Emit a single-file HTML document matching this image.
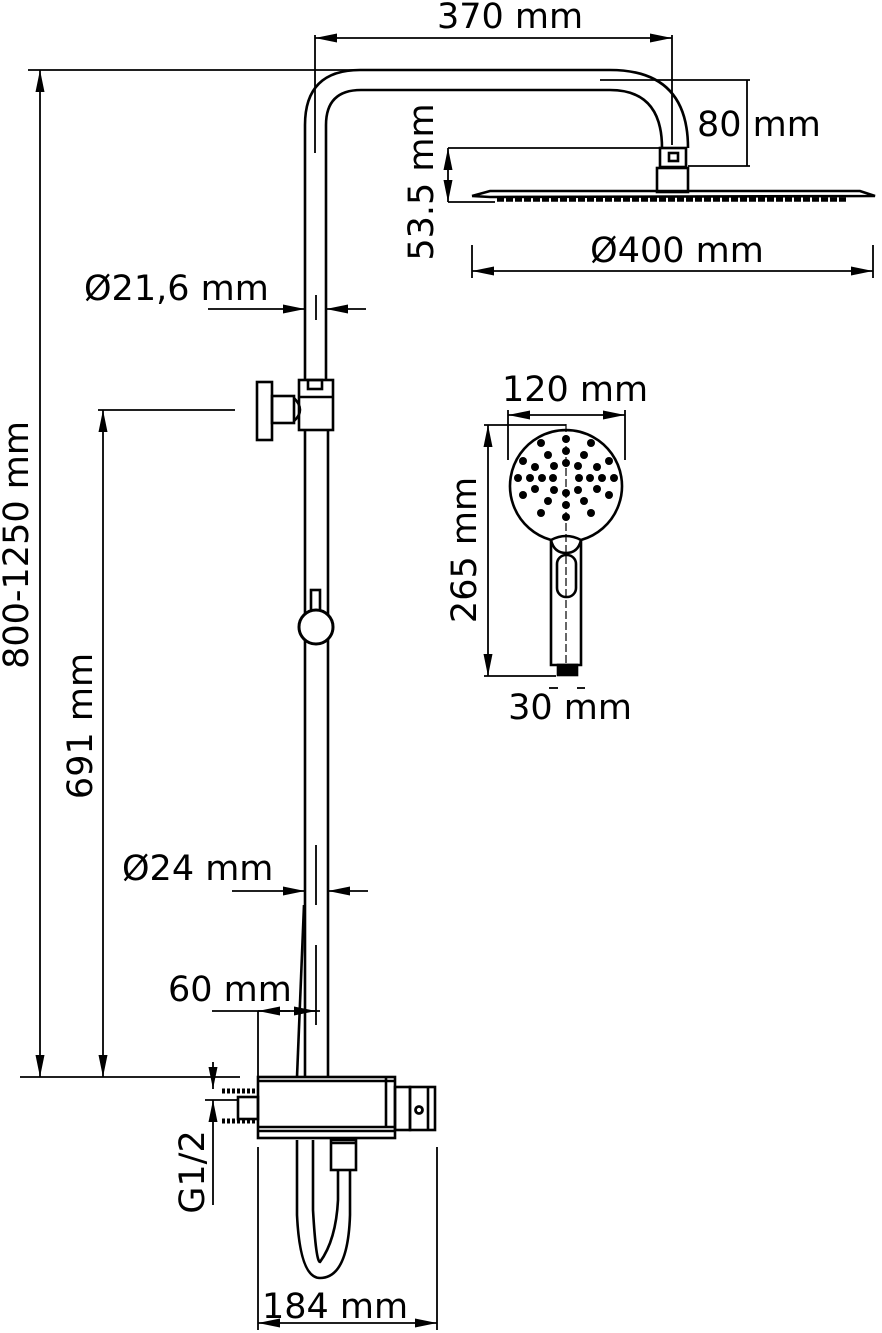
<!DOCTYPE html>
<html><head><meta charset="utf-8"><style>
html,body{margin:0;padding:0;background:#fff}
svg{display:block}
text{font-family:"DejaVu Sans","Liberation Sans",sans-serif;font-size:35px;fill:#000}
</style></head><body>
<svg width="882" height="1333" viewBox="0 0 882 1333" xmlns="http://www.w3.org/2000/svg">
<defs>
<marker id="a" viewBox="0 0 22 9" refX="22" refY="4.5" markerWidth="22" markerHeight="9" markerUnits="userSpaceOnUse" orient="auto-start-reverse"><path d="M0,0 L22,4.5 L0,9 Z" fill="#000"/></marker>
</defs>
<g fill="none" stroke="#000" stroke-width="2.6">
<path d="M305,380 L305,125 Q305,70 360,70 L610,70 Q688,70 688,148"/>
<path d="M326,380 L326,125 Q326,90 361,90 L610,90 Q662,90 662,148"/>
<line x1="315" y1="35" x2="315" y2="153" stroke-width="1.8"/>
<line x1="672" y1="35" x2="672" y2="145" stroke-width="1.8"/>
<line x1="316" y1="295" x2="316" y2="320" stroke-width="1.8"/>
<rect x="660" y="148" width="26" height="19"/>
<rect x="669" y="153" width="9" height="8"/>
<rect x="657" y="168" width="31" height="24"/>
<path d="M472,196 L490,191 L860,191 L875,196 L490,197 L472,196"/>
<line x1="497" y1="199.5" x2="848" y2="199.5" stroke-width="4.5" stroke-dasharray="7 2"/>
<rect x="299" y="380" width="34" height="50"/>
<rect x="308" y="380" width="14" height="9"/>
<line x1="299" y1="397" x2="333" y2="397"/>
<rect x="257" y="382" width="15" height="58"/>
<rect x="272" y="396" width="22" height="27"/>
<path d="M294,398 Q306,410 294,421"/>
<line x1="305" y1="430" x2="305" y2="1077"/>
<line x1="328" y1="430" x2="328" y2="1077"/>
<rect x="311" y="590" width="9" height="22"/>
<circle cx="316" cy="627" r="17" stroke-width="3" fill="#fff"/>
<line x1="316" y1="845" x2="316" y2="905" stroke-width="1.8"/>
<line x1="316" y1="945" x2="316" y2="1025" stroke-width="1.8"/>
<line x1="304" y1="905" x2="297" y2="1077"/>
<rect x="258" y="1077" width="137" height="61"/>
<line x1="258" y1="1081" x2="395" y2="1081"/>
<line x1="258" y1="1127" x2="395" y2="1127"/>
<line x1="258" y1="1131" x2="395" y2="1131"/>
<line x1="386" y1="1077" x2="386" y2="1127"/>
<rect x="395" y="1087" width="15" height="43"/>
<rect x="410" y="1087" width="25" height="43"/>
<line x1="428" y1="1087" x2="428" y2="1130"/>
<circle cx="419" cy="1110" r="3.5" stroke-width="2.8"/>
<rect x="238" y="1097" width="20" height="22"/>
<line x1="222" y1="1091" x2="258" y2="1091" stroke-width="5" stroke-dasharray="3 2"/>
<line x1="222" y1="1121" x2="258" y2="1121" stroke-width="5" stroke-dasharray="3 2"/>
<rect x="331" y="1140" width="25" height="30"/>
<line x1="331" y1="1143" x2="356" y2="1143"/>
<path d="M297,1140 L297,1215 Q300,1278 320,1278 Q348,1278 350,1215 L350,1170"/>
<path d="M313,1140 L313,1210 Q316,1262 320,1262 Q336,1240 338,1200 L338,1170"/>
<path d="M551,540 A56,56 0 1 1 581,540 L581,665 L551,665 Z"/>
<path d="M551,540 Q566,532 581,540 Q578,553 566,553 Q554,553 551,540"/>
<rect x="557" y="555" width="19" height="42" rx="9"/>
<rect x="558" y="665" width="19" height="10" fill="#000"/>
<line x1="566" y1="424" x2="566" y2="665" stroke-width="1.2" stroke-dasharray="8 3"/>
</g>
<g fill="#000">
<circle cx="566" cy="439" r="4"/><circle cx="566" cy="451" r="4"/><circle cx="566" cy="463" r="4"/>
<circle cx="566" cy="493" r="4"/><circle cx="566" cy="505" r="4"/><circle cx="566" cy="517" r="4"/>
<circle cx="518" cy="478" r="4"/><circle cx="530" cy="478" r="4"/><circle cx="542" cy="478" r="4"/><circle cx="553" cy="478" r="4"/>
<circle cx="579" cy="478" r="4"/><circle cx="590" cy="478" r="4"/><circle cx="602" cy="478" r="4"/><circle cx="614" cy="478" r="4"/>
<circle cx="541" cy="443" r="4"/><circle cx="548" cy="455" r="4"/><circle cx="554" cy="466" r="4"/>
<circle cx="591" cy="443" r="4"/><circle cx="584" cy="455" r="4"/><circle cx="578" cy="466" r="4"/>
<circle cx="541" cy="513" r="4"/><circle cx="548" cy="501" r="4"/><circle cx="554" cy="490" r="4"/>
<circle cx="591" cy="513" r="4"/><circle cx="584" cy="501" r="4"/><circle cx="578" cy="490" r="4"/>
<circle cx="523" cy="461" r="4"/><circle cx="535" cy="467" r="4"/><circle cx="609" cy="461" r="4"/><circle cx="597" cy="467" r="4"/>
<circle cx="523" cy="495" r="4"/><circle cx="535" cy="489" r="4"/><circle cx="609" cy="495" r="4"/><circle cx="597" cy="489" r="4"/>
</g>
<g fill="none" stroke="#000" stroke-width="1.8">
<line x1="315" y1="38" x2="672" y2="38" marker-start="url(#a)" marker-end="url(#a)"/>
<line x1="600" y1="80" x2="750" y2="80"/>
<line x1="688" y1="166" x2="750" y2="166"/>
<line x1="747" y1="80" x2="747" y2="166"/>
<line x1="448" y1="148" x2="660" y2="148"/>
<line x1="448" y1="202" x2="495" y2="202"/>
<line x1="448" y1="148" x2="448" y2="202" marker-start="url(#a)" marker-end="url(#a)"/>
<line x1="472" y1="245" x2="472" y2="278"/>
<line x1="873" y1="245" x2="873" y2="278"/>
<line x1="472" y1="271" x2="873" y2="271" marker-start="url(#a)" marker-end="url(#a)"/>
<line x1="28" y1="70" x2="360" y2="70"/>
<line x1="20" y1="1077" x2="240" y2="1077"/>
<line x1="40" y1="70" x2="40" y2="1077" marker-start="url(#a)" marker-end="url(#a)"/>
<line x1="98" y1="410" x2="235" y2="410"/>
<line x1="103" y1="410" x2="103" y2="1077" marker-start="url(#a)" marker-end="url(#a)"/>
<line x1="208" y1="309" x2="305" y2="309" marker-end="url(#a)"/>
<line x1="366" y1="309" x2="326" y2="309" marker-end="url(#a)"/>
<line x1="232" y1="891" x2="305" y2="891" marker-end="url(#a)"/>
<line x1="368" y1="891" x2="328" y2="891" marker-end="url(#a)"/>
<line x1="212" y1="1011" x2="320" y2="1011"/>
<line x1="290" y1="1011" x2="258" y2="1011" marker-end="url(#a)"/>
<line x1="295" y1="1011" x2="316" y2="1011" marker-end="url(#a)"/>
<line x1="258" y1="1011" x2="258" y2="1077"/>
<line x1="213" y1="1062" x2="213" y2="1089" marker-end="url(#a)"/>
<line x1="213" y1="1120" x2="213" y2="1100" marker-end="url(#a)"/>
<line x1="213" y1="1120" x2="213" y2="1205"/>
<line x1="205" y1="1100" x2="238" y2="1100"/>
<line x1="258" y1="1147" x2="258" y2="1330"/>
<line x1="437" y1="1147" x2="437" y2="1330"/>
<line x1="258" y1="1323" x2="437" y2="1323" marker-start="url(#a)" marker-end="url(#a)"/>
<line x1="508" y1="410" x2="508" y2="460"/>
<line x1="625" y1="410" x2="625" y2="460"/>
<line x1="508" y1="415" x2="625" y2="415" marker-start="url(#a)" marker-end="url(#a)"/>
<line x1="484" y1="425" x2="566" y2="425"/>
<line x1="484" y1="676" x2="556" y2="676"/>
<line x1="488" y1="425" x2="488" y2="676" marker-start="url(#a)" marker-end="url(#a)"/>
<line x1="549" y1="688" x2="558" y2="688"/>
<line x1="585" y1="688" x2="577" y2="688"/>
</g>
<text x="510" y="28" text-anchor="middle">370 mm</text>
<text x="697" y="136">80 mm</text>
<text x="677" y="262" text-anchor="middle">Ø400 mm</text>
<text x="84" y="300">Ø21,6 mm</text>
<text x="122" y="880">Ø24 mm</text>
<text x="168" y="1001">60 mm</text>
<text x="335" y="1318" text-anchor="middle">184 mm</text>
<text x="575" y="401" text-anchor="middle">120 mm</text>
<text x="570" y="719" text-anchor="middle">30 mm</text>
<text transform="translate(433,182) rotate(-90)" text-anchor="middle">53.5 mm</text>
<text transform="translate(28,545) rotate(-90)" text-anchor="middle">800-1250 mm</text>
<text transform="translate(92,726) rotate(-90)" text-anchor="middle">691 mm</text>
<text transform="translate(476,550) rotate(-90)" text-anchor="middle">265 mm</text>
<text transform="translate(204,1172) rotate(-90)" text-anchor="middle">G1/2</text>
</svg>
</body></html>
